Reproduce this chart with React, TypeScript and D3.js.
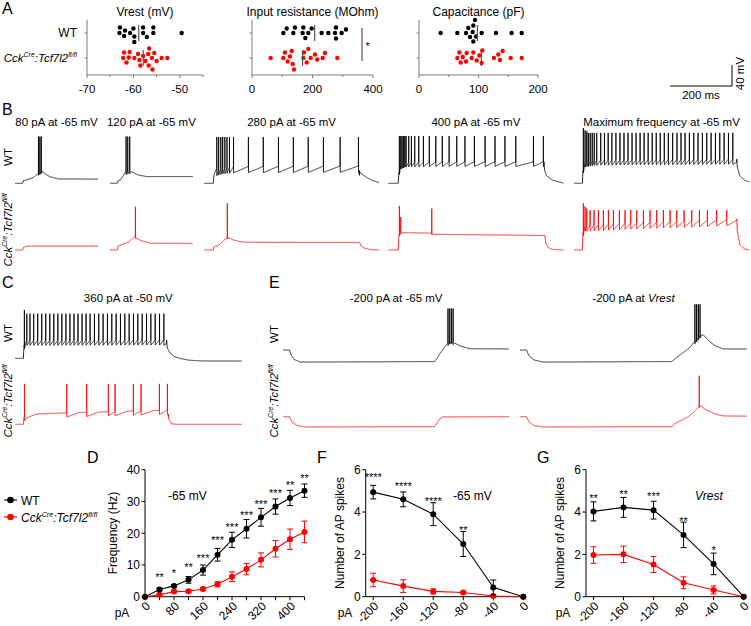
import React from 'react';
import * as d3 from 'd3';

const W = 751;
const H = 626;
const FONT = '"Liberation Sans", Arial, Helvetica, sans-serif';
const BLACK = '#000000';
const RED = '#ff0000';
const GREY = '#7a7a7a';

// ---------------- Panel A data ----------------
const VREST_WT = [-63.0, -62.9, -62.0, -61.8, -60.7, -60.0, -59.8, -59.8, -57.9, -57.9, -57.1, -55.7, -55.7, -49.6];
const VREST_KO = [-62.2, -62.0, -61.5, -61.0, -60.8, -59.8, -59.0, -58.7, -58.5, -57.9, -57.4, -56.8, -56.7, -56.6, -56.0, -55.9, -55.5, -55.0, -53.9, -52.7];
const RIN_WT = [103.6, 114.6, 136.6, 142, 167.5, 169.7, 176.3, 186.2, 197.2, 230.2, 252.3, 274.4, 277.7, 277.7, 296.4, 310.7];
const RIN_KO = [61.7, 103.6, 109, 118, 125.6, 131.2, 134.4, 138.8, 169.7, 171.9, 180.7, 186.2, 193.9, 208.3, 215.9, 233.6, 241.3, 282];
const CAP_WT = [36.4, 64.4, 79, 82.9, 85.7, 90.2, 91.3, 91.3, 94.1, 95.8, 105.3, 129.4, 155.7, 172.6];
const CAP_KO = [64.4, 67.8, 70, 73.4, 79, 80.1, 88.5, 91.3, 96.9, 101.4, 105.3, 106.4, 126, 133.3, 136.1, 140.6, 154.1, 172.6];
const A_TITLES = ['Vrest (mV)', 'Input resistance (MOhm)', 'Capacitance (pF)'];
const VREST_TICKS = [-70, -60, -50];
const RIN_TICKS = [0, 200, 400];
const CAP_TICKS = [0, 100, 200];

// ---------------- Panel D data ----------------
const D_CURRENT = [0, 40, 80, 120, 160, 200, 240, 280, 320, 360, 400, 440];
const D_WT = [0, 2.3, 3.4, 5.3, 8.4, 13.2, 17.9, 21.4, 25.0, 28.4, 31.1, 33.4];
const D_WT_SEM = [0, 0.4, 0.4, 1.05, 1.6, 2.0, 2.4, 2.9, 2.8, 2.4, 2.4, 2.1];
const D_KO = [0, 0.6, 1.6, 1.7, 2.4, 3.9, 6.3, 8.7, 11.6, 15.1, 18.1, 20.4];
const D_KO_SEM = [0, 0.3, 0.4, 0.4, 0.5, 0.8, 1.5, 1.8, 2.2, 2.6, 3.2, 3.4];
const D_STARS = ['', '**', '*', '**', '***', '***', '***', '***', '***', '***', '**', '**'];
const D_STAR_Y = [null, 7.1, 8.4, 10.2, 13.1, 18.5, 22.6, 26.5, 30.1, 33.3, 35.9, 38.3];
const D_XLABELS = [0, 80, 160, 240, 320, 400];
const D_YTICKS = [0, 10, 20, 30, 40];

// ---------------- Panel F data ----------------
const FG_CURRENT = [-200, -160, -120, -80, -40, 0];
const F_WT = [4.94, 4.6, 3.9, 2.49, 0.44, 0];
const F_WT_SEM = [0.32, 0.35, 0.54, 0.59, 0.35, 0];
const F_KO = [0.79, 0.5, 0.25, 0.2, 0.03, 0];
const F_KO_SEM = [0.32, 0.3, 0.12, 0.05, 0, 0];
const F_STARS = ['****', '****', '****', '**', '', ''];
const F_STAR_Y = [5.77, 5.37, 4.63, 3.29, null, null];

// ---------------- Panel G data ----------------
const G_WT = [4.03, 4.22, 4.09, 2.92, 1.55, 0];
const G_WT_SEM = [0.45, 0.47, 0.42, 0.6, 0.51, 0];
const G_KO = [1.97, 2.0, 1.52, 0.66, 0.32, 0];
const G_KO_SEM = [0.39, 0.39, 0.38, 0.28, 0.19, 0];
const G_STARS = ['**', '**', '***', '**', '*', ''];
const G_STAR_Y = [4.77, 4.98, 4.87, 3.68, 2.34, null];
const FG_YTICKS = [0, 2, 4, 6];

// ---------------- Traces (ms, mV) ----------------
type Trace = {
  env: [number, number][];
  spikes: number[];
  peak: number;
  peaks?: number[];
  drop: number;
  rec: number;
  off?: number;
};

const B_TITLES = ['80 pA at -65 mV', '120 pA at -65 mV', '280 pA at -65 mV', '400 pA at -65 mV', 'Maximum frequency at -65 mV'];

const B1_WT: Trace = {
  env: [[0, -65], [24.7, -65], [27, -60], [37, -58.5], [59, -54], [75, -46], [86, -41.5], [100, -48], [113, -52.5], [140, -56.8], [268, -57]],
  spikes: [75.5, 80, 84.5], peak: 24, drop: 5, rec: 4,
};
const B1_KO: Trace = {
  env: [[0, -65], [24.7, -65], [27, -60], [40, -57.5], [268, -57.5]],
  spikes: [], peak: 0, drop: 0, rec: 1,
};
const B2_WT: Trace = {
  env: [[0, -65], [23.6, -65], [26, -60], [34, -58.5], [48, -45], [60, -42], [70, -43], [90, -49], [118, -52.2], [267, -52.2]],
  spikes: [51.6, 57, 63.4], peak: 24, drop: 5, rec: 5,
};
const B2_KO: Trace = {
  env: [[0, -65], [23.6, -65], [26, -58], [34, -55.5], [60, -50], [78, -40], [82, -40], [86, -42.5], [100, -47], [129, -52], [267, -52.5]],
  spikes: [81.8], peak: 17.5, drop: 3, rec: 6,
};
const B3_WT: Trace = {
  env: [[0, -65], [30, -65], [32, -50], [38, -40], [60, -36], [100, -33], [500, -32], [503, -45], [525, -54], [545, -60], [565, -63.5]],
  spikes: [41, 47, 54, 60, 67, 74, 82, 95, 143, 191, 240, 288, 336, 385, 439, 498],
  peak: 23, drop: 12, rec: 60, off: 502,
};
const B3_KO: Trace = {
  env: [[0, -65], [30, -65], [32, -59], [45, -57], [71, -43], [75, -42.5], [80, -41.5], [95, -46], [115, -49], [139, -50.3], [502, -50.5], [506, -57], [520, -62], [540, -64.5], [565, -65]],
  spikes: [75], peak: 24, drop: 2, rec: 4,
};
const B4_WT: Trace = {
  env: [[0, -65], [32, -65], [34, -45], [40, -30], [60, -25], [200, -24], [502, -24], [504, -40], [511, -51], [530, -59], [559, -64], [565, -64.5]],
  spikes: [35.5, 40, 44, 48.4, 53, 57, 65.7, 74.3, 85, 98, 113, 132, 153, 174, 196, 220.6, 247, 277.4, 312, 344, 376, 411, 468, 500],
  peak: 25, drop: 9, rec: 60, off: 502,
};
const B4_KO: Trace = {
  env: [[0, -65], [32, -65], [34, -40], [38, -32], [100, -32.5], [138, -33], [150, -35], [300, -36], [505, -37.5], [508, -52], [515, -60], [530, -64], [565, -65]],
  spikes: [35.5, 40, 140], peak: 19, peaks: [19, -2, 14], drop: 3, rec: 5, off: 505,
};
const B5_WT: Trace = {
  env: [[0, -65], [27, -65], [29, -40], [35, -25], [70, -21], [525, -19], [527, -35], [535, -51], [550, -59], [565, -63]],
  spikes: [30, 35.5, 41, 46, 52, 58.5, 65, 73, 86, 98, 110, 122, 135, 148, 161, 174, 187, 200, 213, 226, 239, 252, 265, 278, 291, 304, 318, 332, 345, 358, 372, 386, 400, 414, 428, 442, 456, 470, 484, 498, 512],
  peak: 31, peaks: [40, 36, 34], drop: 10, rec: 30, off: 525,
};
const B5_KO: Trace = {
  env: [[0, -65], [27, -65], [29, -30], [35, -18], [200, -13], [400, -9], [525, -6], [527, -30], [535, -55], [550, -63], [565, -65]],
  spikes: [30, 35.5, 41, 51.6, 64.5, 78.5, 94.6, 110.8, 126.9, 146.2, 164.5, 182.8, 202.2, 223.7, 245.2, 266.7, 288.2, 309.7, 331.2, 354.8, 379.6, 404.3, 430, 460, 492.5],
  peak: 11, peaks: [24, 18, 14], drop: 12, rec: 40, off: 525,
};

const C_TITLE = '360 pA at -50 mV';
const C_WT: Trace = {
  env: [[0, -50], [27, -50], [29, -25], [35, -16], [489, -15], [491, -30], [500, -40], [515, -47], [532, -50], [560, -53.5], [600, -55], [731, -55.3]],
  spikes: [30, 38, 48, 60, 73, 86, 99, 112, 125, 138, 151, 164, 177, 190, 203, 216, 229, 242, 256, 270, 284, 298, 312, 326, 340, 354, 368, 382, 396, 410, 424, 438, 452, 466, 480],
  peak: 35, peaks: [42], drop: 10, rec: 30, off: 489,
};
const C_KO: Trace = {
  env: [[0, -50], [27, -50], [29, -36], [40, -31], [160, -28.5], [300, -26], [494, -23], [496, -40], [505, -49], [520, -50], [731, -50]],
  spikes: [30.6, 166.7, 231, 301, 322.6, 381.7, 406.5, 465.6, 491.4],
  peak: 27, drop: 8, rec: 40, off: 494.6,
};

const E_TITLES = ['-200 pA at -65 mV', '-200 pA at '];
const E1_WT: Trace = {
  env: [[0, -65], [20, -65], [25, -74], [35, -83], [54, -88], [300, -87.5], [488, -87], [495, -82], [505, -72], [515, -64], [525, -56], [531, -52], [540, -48], [550, -51], [570, -57], [600, -62.5], [728, -63]],
  spikes: [531, 536.5, 542, 547.5], peak: 14, drop: 5, rec: 5,
};
const E2_WT: Trace = {
  env: [[0, -65], [21, -65], [28, -75], [45, -84], [75, -88], [489, -87], [500, -82], [521, -72], [545, -62], [559, -52], [570, -45], [580, -38], [591, -36], [610, -48], [630, -57], [656, -63], [732, -63]],
  spikes: [564, 569.5, 575, 580.5], peak: 22, drop: 5, rec: 5,
};
const E1_KO: Trace = {
  env: [[0, -65], [20, -65], [28, -75], [45, -82], [70, -84.5], [488, -84], [495, -78], [505, -69], [515, -65.5], [728, -65]],
  spikes: [], peak: 0, drop: 0, rec: 1,
};
const E2_KO: Trace = {
  env: [[0, -65], [21, -65], [29, -75], [46, -82], [75, -84.5], [489, -84], [500, -78], [521, -72], [545, -64], [565, -54], [578, -46], [585, -45], [600, -52], [630, -60], [656, -63.5], [732, -64]],
  spikes: [578], peak: 13, drop: 2, rec: 3,
};

// ---------------- helpers ----------------
const PX_PER_MS = 0.31;
const PX_PER_40MV = 21;

function buildTrace(tr: Trace): [number, number][] {
  const env = d3.scaleLinear().domain(tr.env.map(d => d[0])).range(tr.env.map(d => d[1])).clamp(true);
  const tEnd = tr.env[tr.env.length - 1][0];
  const sp = tr.spikes;
  const off = tr.off ?? Infinity;
  const vAt = (t: number, j: number) => {
    let v = env(t);
    if (j >= 0 && t < off) {
      const ts = sp[j];
      const next = j + 1 < sp.length ? sp[j + 1] : Infinity;
      const w = Math.min(next - ts, tr.rec);
      const f = (t - ts) / w;
      if (f < 1) v -= tr.drop * (1 - f);
    }
    return v;
  };
  const pts: [number, number][] = [];
  let j = -1;
  let lastT = -1;
  for (let i = 0; i * 0.5 <= tEnd; i++) {
    const t = i * 0.5;
    while (j + 1 < sp.length && sp[j + 1] <= t) {
      const ts = sp[j + 1];
      if (ts > lastT) pts.push([ts, vAt(ts, j)]);
      j++;
      const pk = tr.peaks && tr.peaks[j] !== undefined ? tr.peaks[j] : tr.peak;
      pts.push([ts + 0.25, pk]);
      lastT = ts + 0.25;
    }
    if (t > lastT) {
      pts.push([t, vAt(t, j)]);
      lastT = t;
    }
  }
  return pts;
}

function TracePath({ tr, x0, rowY, vRef, color }: { tr: Trace; x0: number; rowY: number; vRef: number; color: string }) {
  const x = d3.scaleLinear().domain([0, 100]).range([x0, x0 + 100 * PX_PER_MS]);
  const y = d3.scaleLinear().domain([vRef, vRef + 40]).range([rowY, rowY - PX_PER_40MV]);
  const line = d3.line<[number, number]>().x(d => x(d[0])).y(d => y(d[1]));
  return <path d={line(buildTrace(tr)) || ''} fill="none" stroke={color} strokeWidth={0.85} strokeLinejoin="round" />;
}

function CckLabel({ x, y, anchor, rotate, size }: { x: number; y: number; anchor: string; rotate?: boolean; size: number }) {
  const sup = size * 0.6;
  const sh = size * 0.4;
  return (
    <text transform={`translate(${x},${y})${rotate ? ' rotate(-90)' : ''}`} textAnchor={anchor} fontSize={size} fontStyle="italic" fill={BLACK}>
      Cck<tspan fontSize={sup} dy={-sh}>Cre</tspan>
      <tspan dy={sh}>:Tcf7l2</tspan>
      <tspan fontSize={sup} dy={-sh}>fl/fl</tspan>
    </text>
  );
}

function RotLabel({ x, y, text, size }: { x: number; y: number; text: string; size: number }) {
  return (
    <text transform={`translate(${x},${y}) rotate(-90)`} textAnchor="middle" fontSize={size} fill={BLACK}>{text}</text>
  );
}

function swarm(vals: number[], sx: (v: number) => number, minDist: number) {
  const placed: { x: number; y: number }[] = [];
  const xs = vals.map(v => sx(v)).sort((a, b) => a - b);
  for (const px of xs) {
    let off = 0;
    for (let k = 0; k < 60; k++) {
      const cand = (k % 2 === 0 ? 1 : -1) * Math.ceil(k / 2) * 0.5;
      const ok = placed.every(p => Math.hypot(p.x - px, p.y - cand) >= minDist);
      if (ok) { off = cand; break; }
    }
    placed.push({ x: px, y: off });
  }
  return placed;
}

// ---------------- Panel A ----------------
function DotPlot({ title, wt, ko, domain, range, major, minor, sig, showRows }: {
  title: string; wt: number[]; ko: number[]; domain: [number, number]; range: [number, number];
  major: number[]; minor: number[]; sig?: boolean; showRows?: boolean;
}) {
  const sx = d3.scaleLinear().domain(domain).range(range);
  const rowWT = 33;
  const rowKO = 58;
  const axisY = 75;
  const r = 2.2;
  const groups = [
    { vals: wt, cy: rowWT, color: BLACK },
    { vals: ko, cy: rowKO, color: RED },
  ];
  return (
    <g>
      <text x={(range[0] + range[1]) / 2} y={15.5} textAnchor="middle" fontSize={12}>{title}</text>
      <line x1={range[0]} x2={range[0]} y1={20} y2={axisY} stroke={GREY} strokeWidth={1} />
      <line x1={range[0]} x2={range[1]} y1={axisY} y2={axisY} stroke={GREY} strokeWidth={1} />
      {[rowWT, rowKO].map(ry => <line key={ry} x1={range[0] - 2.5} x2={range[0]} y1={ry} y2={ry} stroke={GREY} />)}
      {major.map(t => (
        <g key={'M' + t}>
          <line x1={sx(t)} x2={sx(t)} y1={axisY} y2={axisY + 3} stroke={GREY} />
          <text x={sx(t)} y={axisY + 9.5} textAnchor="middle" fontSize={11.5} dominantBaseline="hanging">{t}</text>
        </g>
      ))}
      {minor.map(t => <line key={'m' + t} x1={sx(t)} x2={sx(t)} y1={axisY} y2={axisY + 2} stroke={GREY} />)}
      {groups.map((g, gi) => {
        const pts = swarm(g.vals, sx, 5.4);
        const m = d3.mean(g.vals) as number;
        return (
          <g key={gi}>
            {pts.map((p, i) => <circle key={i} cx={p.x} cy={g.cy + p.y} r={r} fill={g.color} />)}
            <line x1={sx(m)} x2={sx(m)} y1={g.cy - 8} y2={g.cy + 8} stroke="#555" strokeWidth={1.2} />
          </g>
        );
      })}
      {sig && (
        <g>
          <line x1={range[1] - 11} x2={range[1] - 11} y1={28} y2={61} stroke="#333" strokeWidth={1} />
          <text x={range[1] - 7.5} y={49.5} fontSize={11} textAnchor="start">*</text>
        </g>
      )}
      {showRows && (
        <g>
          <text x={77} y={37} textAnchor="end" fontSize={12}>WT</text>
          <CckLabel x={77} y={62} anchor="end" size={11.5} />
        </g>
      )}
    </g>
  );
}

function PanelA() {
  return (
    <g>
      <text x={2} y={14} fontSize={16}>A</text>
      <DotPlot title={A_TITLES[0]} wt={VREST_WT} ko={VREST_KO} domain={[-70, -45]} range={[87, 203]} major={VREST_TICKS} minor={[-65, -55, -45]} showRows />
      <DotPlot title={A_TITLES[1]} wt={RIN_WT} ko={RIN_KO} domain={[0, 400]} range={[252, 373]} major={RIN_TICKS} minor={[100, 300]} sig />
      <DotPlot title={A_TITLES[2]} wt={CAP_WT} ko={CAP_KO} domain={[0, 200]} range={[419, 538]} major={CAP_TICKS} minor={[50, 150]} />
      <ScaleBar />
    </g>
  );
}

function ScaleBar() {
  const x = d3.scaleLinear().domain([0, 200]).range([670, 670 + 200 * PX_PER_MS]);
  const y = d3.scaleLinear().domain([0, 40]).range([86, 86 - PX_PER_40MV]);
  return (
    <g>
      <line x1={x(0)} x2={x(200)} y1={y(0)} y2={y(0)} stroke={BLACK} strokeWidth={1} />
      <line x1={x(200)} x2={x(200)} y1={y(0)} y2={y(40)} stroke={BLACK} strokeWidth={1} />
      <text x={(x(0) + x(200)) / 2} y={99} textAnchor="middle" fontSize={11.5}>200 ms</text>
      <text transform={`translate(${x(200) + 12},${(y(0) + y(40)) / 2 - 2}) rotate(-90)`} textAnchor="middle" fontSize={11.5}>40 mV</text>
    </g>
  );
}

// ---------------- Panel B ----------------
const B_X0 = [15, 110, 204, 388.3, 574];
const B_WT_TRACES = [B1_WT, B2_WT, B3_WT, B4_WT, B5_WT];
const B_KO_TRACES = [B1_KO, B2_KO, B3_KO, B4_KO, B5_KO];

function traceWidth(tr: Trace) {
  return tr.env[tr.env.length - 1][0] * PX_PER_MS;
}

function PanelB() {
  return (
    <g>
      <text x={2} y={115} fontSize={16}>B</text>
      {B_TITLES.map((t, i) => (
        <text key={t} x={B_X0[i] + traceWidth(B_WT_TRACES[i]) / 2} y={126} textAnchor="middle" fontSize={11.5}>{t}</text>
      ))}
      {B_WT_TRACES.map((tr, i) => <TracePath key={'w' + i} tr={tr} x0={B_X0[i]} rowY={183.3} vRef={-65} color={BLACK} />)}
      {B_KO_TRACES.map((tr, i) => <TracePath key={'k' + i} tr={tr} x0={B_X0[i]} rowY={250} vRef={-65} color={RED} />)}
      <RotLabel x={11.5} y={157} text="WT" size={11.5} />
      <CckLabel x={11.5} y={230} anchor="middle" rotate size={11.5} />
    </g>
  );
}

// ---------------- Panel C ----------------
function PanelC() {
  return (
    <g>
      <text x={2} y={288} fontSize={16}>C</text>
      <text x={15 + traceWidth(C_WT) / 2} y={301.5} textAnchor="middle" fontSize={11.5}>{C_TITLE}</text>
      <TracePath tr={C_WT} x0={15} rowY={358.3} vRef={-50} color={BLACK} />
      <TracePath tr={C_KO} x0={15} rowY={424.3} vRef={-50} color={RED} />
      <RotLabel x={11.5} y={333} text="WT" size={11.5} />
      <CckLabel x={11.5} y={401} anchor="middle" rotate size={11.5} />
    </g>
  );
}

// ---------------- Panel E ----------------
const E_X0 = [283.3, 520];
function PanelE() {
  return (
    <g>
      <text x={269} y={288} fontSize={16}>E</text>
      <text x={E_X0[0] + traceWidth(E1_WT) / 2} y={301.5} textAnchor="middle" fontSize={11.5}>{E_TITLES[0]}</text>
      <text x={E_X0[1] + traceWidth(E2_WT) / 2} y={301.5} textAnchor="middle" fontSize={11.5}>
        {E_TITLES[1]}<tspan fontStyle="italic">Vrest</tspan>
      </text>
      <TracePath tr={E1_WT} x0={E_X0[0]} rowY={350} vRef={-65} color={BLACK} />
      <TracePath tr={E2_WT} x0={E_X0[1]} rowY={350} vRef={-65} color={BLACK} />
      <TracePath tr={E1_KO} x0={E_X0[0]} rowY={416.7} vRef={-65} color={RED} />
      <TracePath tr={E2_KO} x0={E_X0[1]} rowY={416.7} vRef={-65} color={RED} />
      <RotLabel x={278} y={334} text="WT" size={11.5} />
      <CckLabel x={278} y={401} anchor="middle" rotate size={11.5} />
    </g>
  );
}

// ---------------- Panels D, F, G ----------------
type XYCfg = {
  letter: string; letterX: number;
  xDomain: [number, number]; xRange: [number, number];
  yMax: number; yTicks: number[];
  currents: number[]; xLabels: number[];
  wt: number[]; wtSem: number[]; ko: number[]; koSem: number[];
  stars: string[]; starY: (number | null)[];
  yLabel: string; yLabelX: number;
  note: string; noteItalic: boolean; noteX: number;
  pAX: number;
};

function XYPanel({ c }: { c: XYCfg }) {
  const x = d3.scaleLinear().domain(c.xDomain).range(c.xRange);
  const y = d3.scaleLinear().domain([0, c.yMax]).range([596.7, 469.7]);
  const axisX = c.xRange[0];
  const axisY = y(0);
  const line = d3.line<number>().x((_, i) => x(c.currents[i])).y(d => y(d));
  const series = [
    { v: c.ko, s: c.koSem, color: RED },
    { v: c.wt, s: c.wtSem, color: BLACK },
  ];
  return (
    <g>
      <text x={c.letterX} y={463} fontSize={16}>{c.letter}</text>
      <line x1={axisX} x2={axisX} y1={axisY} y2={y(c.yMax)} stroke={BLACK} />
      <line x1={axisX} x2={c.xRange[1]} y1={axisY} y2={axisY} stroke={BLACK} />
      {c.yTicks.map(t => (
        <g key={t}>
          <line x1={axisX - 3.5} x2={axisX} y1={y(t)} y2={y(t)} stroke={BLACK} />
          <text x={axisX - 5} y={y(t)} dy="0.36em" textAnchor="end" fontSize={12}>{t}</text>
        </g>
      ))}
      {c.currents.map(t => <line key={t} x1={x(t)} x2={x(t)} y1={axisY} y2={axisY + 3.5} stroke={BLACK} />)}
      {c.xLabels.map(t => (
        <text key={t} transform={`translate(${x(t) + 6},${axisY + 10}) rotate(-45)`} textAnchor="end" fontSize={12}>{t}</text>
      ))}
      <text x={c.pAX} y={617} textAnchor="middle" fontSize={12}>pA</text>
      <text transform={`translate(${c.yLabelX},${533}) rotate(-90)`} textAnchor="middle" fontSize={12}>{c.yLabel}</text>
      <text x={c.noteX} y={500} fontSize={12} fontStyle={c.noteItalic ? 'italic' : 'normal'}>{c.note}</text>
      {series.map((s, si) => (
        <g key={si}>
          <path d={line(s.v) || ''} fill="none" stroke={s.color} strokeWidth={1.1} />
          {s.v.map((v, i) => s.s[i] > 0 ? (
            <g key={'e' + i} stroke={s.color} strokeWidth={1}>
              <line x1={x(c.currents[i])} x2={x(c.currents[i])} y1={y(v - s.s[i])} y2={y(v + s.s[i])} />
              <line x1={x(c.currents[i]) - 3} x2={x(c.currents[i]) + 3} y1={y(v - s.s[i])} y2={y(v - s.s[i])} />
              <line x1={x(c.currents[i]) - 3} x2={x(c.currents[i]) + 3} y1={y(v + s.s[i])} y2={y(v + s.s[i])} />
            </g>
          ) : null)}
          {s.v.map((v, i) => <circle key={'p' + i} cx={x(c.currents[i])} cy={y(v)} r={3} fill={s.color} />)}
        </g>
      ))}
      {c.stars.map((st, i) => st && c.starY[i] !== null ? (
        <text key={'s' + i} x={x(c.currents[i])} y={y(c.starY[i] as number) + 6.5} textAnchor="middle" fontSize={11}>{st}</text>
      ) : null)}
    </g>
  );
}

const D_CFG: XYCfg = {
  letter: 'D', letterX: 87, xDomain: [0, 440], xRange: [145, 304.5], yMax: 40, yTicks: D_YTICKS,
  currents: D_CURRENT, xLabels: D_XLABELS, wt: D_WT, wtSem: D_WT_SEM, ko: D_KO, koSem: D_KO_SEM,
  stars: D_STARS, starY: D_STAR_Y, yLabel: 'Frequency (Hz)', yLabelX: 116.5, note: '-65 mV', noteItalic: false, noteX: 168, pAX: 122,
};
const F_CFG: XYCfg = {
  letter: 'F', letterX: 317, xDomain: [-210, 0], xRange: [365.7, 523.3], yMax: 6, yTicks: FG_YTICKS,
  currents: FG_CURRENT, xLabels: FG_CURRENT, wt: F_WT, wtSem: F_WT_SEM, ko: F_KO, koSem: F_KO_SEM,
  stars: F_STARS, starY: F_STAR_Y, yLabel: 'Number of AP spikes', yLabelX: 344, note: '-65 mV', noteItalic: false, noteX: 453, pAX: 345,
};
const G_CFG: XYCfg = {
  letter: 'G', letterX: 537, xDomain: [-210, 0], xRange: [586, 743.6], yMax: 6, yTicks: FG_YTICKS,
  currents: FG_CURRENT, xLabels: FG_CURRENT, wt: G_WT, wtSem: G_WT_SEM, ko: G_KO, koSem: G_KO_SEM,
  stars: G_STARS, starY: G_STAR_Y, yLabel: 'Number of AP spikes', yLabelX: 564, note: 'Vrest', noteItalic: true, noteX: 695, pAX: 563,
};

function Legend() {
  return (
    <g>
      <line x1={4} x2={17} y1={500} y2={500} stroke={BLACK} strokeWidth={1.1} />
      <circle cx={10.5} cy={500} r={3.3} fill={BLACK} />
      <text x={21} y={504.5} fontSize={12}>WT</text>
      <line x1={4} x2={17} y1={517} y2={517} stroke={RED} strokeWidth={1.1} />
      <circle cx={10.5} cy={517} r={3.3} fill={RED} />
      <CckLabel x={21} y={521.5} anchor="start" size={12} />
    </g>
  );
}

export default function App() {
  return (
    <svg
      width={W}
      height={H}
      viewBox={`0 0 ${W} ${H}`}
      style={{ position: 'absolute', left: 0, top: 0, background: '#fff' }}
      fontFamily={FONT}
    >
      <rect x={0} y={0} width={W} height={H} fill="#fff" />
      <PanelA />
      <PanelB />
      <PanelC />
      <PanelE />
      <Legend />
      <XYPanel c={D_CFG} />
      <XYPanel c={F_CFG} />
      <XYPanel c={G_CFG} />
    </svg>
  );
}
